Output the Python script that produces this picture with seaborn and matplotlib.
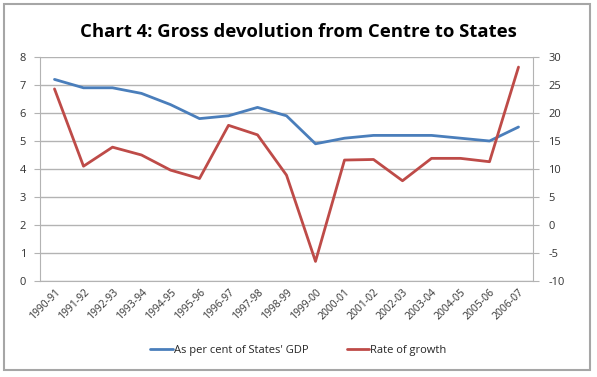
import numpy as np
import pandas as pd
from matplotlib import pyplot as plt
from matplotlib.patches import Rectangle
import seaborn as sns

years = ["1990-91", "1991-92", "1992-93", "1993-94", "1994-95", "1995-96",
         "1996-97", "1997-98", "1998-99", "1999-00", "2000-01", "2001-02",
         "2002-03", "2003-04", "2004-05", "2005-06", "2006-07"]
pct_gdp = [7.2, 6.9, 6.9, 6.7, 6.3, 5.8, 5.9, 6.2, 5.9, 4.9, 5.1, 5.2,
           5.2, 5.2, 5.1, 5.0, 5.5]
growth = [24.3, 10.5, 13.9, 12.5, 9.8, 8.3, 17.8, 16.1, 8.9, -6.5, 11.6, 11.7,
          7.9, 11.9, 11.9, 11.3, 28.2]

blue = "#4A7EBB"
red = "#BE4B48"
grid_col = "#B3B3B3"

df = pd.DataFrame({"year": years, "pct": pct_gdp, "growth": growth})
df["x"] = np.arange(len(years))

sns.set_style("white")
plt.rcParams['font.family'] = ['Open Sans', 'DejaVu Sans']
plt.rcParams['axes.unicode_minus'] = False

fig = plt.figure(figsize=(5.97, 3.77), dpi=100)
ax1 = fig.add_axes([40 / 597, 1 - 281 / 377, 493 / 597, 224 / 377])
ax2 = ax1.twinx()

sns.lineplot(x="x", y="pct", data=df, ax=ax1, color=blue, lw=2, label="As per cent of States' GDP", legend=False)
sns.lineplot(x="x", y="growth", data=df, ax=ax2, color=red, lw=2, label="Rate of growth", legend=False)

ax1.set_xlim(-0.5, len(years) - 0.5)
ax1.set_ylim(0, 8)
ax2.set_ylim(-10, 30)
ax1.set_yticks(range(0, 9))
ax2.set_yticks(range(-10, 31, 5))
ax1.yaxis.grid(True, color=grid_col, lw=1)
ax1.set_axisbelow(True)

# category ticks at boundaries, labels at centres
ax1.set_xticks(np.arange(len(years) + 1) - 0.5)
ax1.set_xticklabels([])
ax1.set_xticks(df["x"], minor=True)
ax1.set_xticklabels(years, minor=True, rotation=45, ha="right", rotation_mode="anchor", fontsize=7.5, color="#333333")
ax1.tick_params(axis="x", which="minor", length=0, pad=4)
ax1.tick_params(axis="x", which="major", length=4, color=grid_col, direction="out")

for ax in (ax1, ax2):
    ax.set_xlabel("")
    ax.set_ylabel("")
    ax.spines["top"].set_visible(False)
    for s in ("left", "right", "bottom"):
        ax.spines[s].set_color(grid_col)
ax1.spines["right"].set_visible(False)
ax2.spines["left"].set_visible(False)
ax2.spines["bottom"].set_visible(False)
ax1.tick_params(axis="y", length=4, color=grid_col, labelsize=8, labelcolor="#333333", pad=6)
ax2.tick_params(axis="y", length=4, color=grid_col, labelsize=8, labelcolor="#333333", pad=7)

fig.text(0.5, 1 - 32 / 377, "Chart 4: Gross devolution from Centre to States",
         ha="center", va="center", fontsize=13.3, fontweight="bold", color="black")

h1, l1 = ax1.get_legend_handles_labels()
h2, l2 = ax2.get_legend_handles_labels()
fig.legend(h1 + h2, l1 + l2, loc="center", bbox_to_anchor=(0.5, 1 - 350 / 377), ncol=2,
           frameon=False, fontsize=8, handlelength=2.0, handletextpad=0.1, columnspacing=3.5)

fig.patches.append(Rectangle((4 / 597, 1 - 370 / 377), 586 / 597, 366 / 377,
                             transform=fig.transFigure, fill=False, edgecolor="#A6A6A6", lw=1.5))

fig.savefig("out.png", dpi=100)
